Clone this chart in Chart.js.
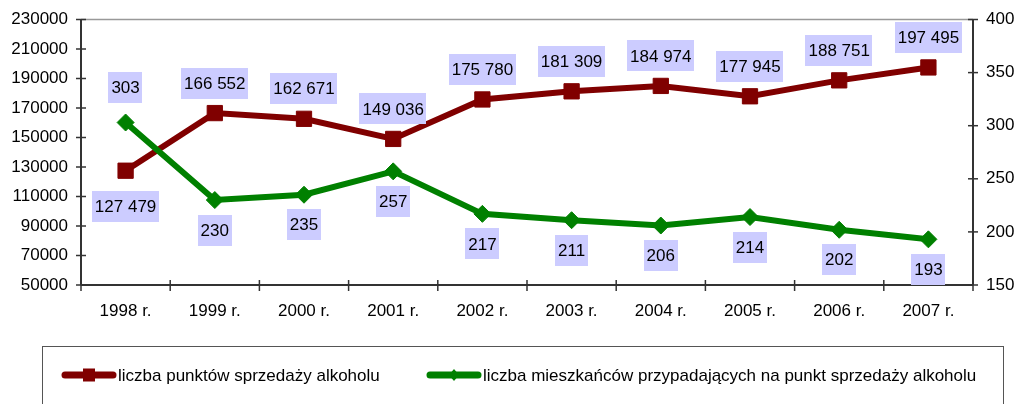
<!DOCTYPE html>
<html lang="pl">
<head>
<meta charset="UTF-8">
<title>Punkty sprzedaży alkoholu 1998-2007</title>
<style>
    body, html { margin: 0; background: #fff; }
    #wrap { width: 1017px; height: 404px; }
</style>
<script src="https://cdn.jsdelivr.net/npm/chart.js"></script>
</head>
<body>
<div id="wrap"><canvas id="chart" width="1017" height="404"></canvas></div>
<script>
// data
const years = ['1998 r.', '1999 r.', '2000 r.', '2001 r.', '2002 r.', '2003 r.', '2004 r.', '2005 r.', '2006 r.', '2007 r.'];
const outlets = [127479, 166552, 162671, 149036, 175780, 181309, 184974, 177945, 188751, 197495];
const residentsPerOutlet = [303, 230, 235, 257, 217, 211, 206, 214, 202, 193];
const leftTicks = [50000, 70000, 90000, 110000, 130000, 150000, 170000, 190000, 210000, 230000];
const rightTicks = [150, 200, 250, 300, 350, 400];
const seriesNames = ['liczba punktów sprzedaży alkoholu', 'liczba mieszkańców przypadających na punkt sprzedaży alkoholu'];

const FONT = "'Liberation Sans', Arial, sans-serif";
const RED = '#800000';
const GREEN = '#008000';

function fmt(v) {
    return String(v).replace(/\B(?=(\d{3})+(?!\d))/g, ' ');
}

function seg(ctx, x1, y1, x2, y2) {
    ctx.beginPath();
    ctx.moveTo(x1, y1);
    ctx.lineTo(x2, y2);
    ctx.stroke();
}

// axis lines + tick marks crossing the axes
const axesPlugin = {
    id: 'axes',
    beforeDatasetsDraw(chart) {
        const { ctx, chartArea: a, scales } = chart;
        ctx.save();
        ctx.strokeStyle = '#999';
        ctx.lineWidth = 1.5;
        seg(ctx, a.left, a.top, a.right, a.top);

        ctx.strokeStyle = '#333';
        ctx.lineWidth = 2;
        seg(ctx, a.left, a.top, a.left, a.bottom);
        seg(ctx, a.right, a.top, a.right, a.bottom);
        seg(ctx, a.left, a.bottom, a.right, a.bottom);

        ctx.lineWidth = 1.5;
        scales.y.ticks.forEach(t => {
            const p = scales.y.getPixelForValue(t.value);
            seg(ctx, a.left - 5, p, a.left + 5, p);
        });
        scales.y1.ticks.forEach(t => {
            const p = scales.y1.getPixelForValue(t.value);
            seg(ctx, a.right - 5, p, a.right + 5, p);
        });
        const n = years.length;
        for (let i = 0; i <= n; i++) {
            let x;
            if (i === 0) x = a.left;
            else if (i === n) x = a.right;
            else x = (scales.x.getPixelForTick(i - 1) + scales.x.getPixelForTick(i)) / 2;
            seg(ctx, x, a.bottom - 5, x, a.bottom + 6);
        }
        ctx.restore();
    }
};

// value labels in lavender boxes
const labelsPlugin = {
    id: 'valueLabels',
    afterDatasetsDraw(chart) {
        const ctx = chart.ctx;
        ctx.save();
        ctx.font = '17px ' + FONT;
        ctx.textAlign = 'center';
        ctx.textBaseline = 'middle';
        chart.data.datasets.forEach((ds, di) => {
            const meta = chart.getDatasetMeta(di);
            meta.data.forEach((pt, i) => {
                const first = i === 0;
                let above = ds.labelSide === 'above';
                if (first) above = !above;
                const off = first ? 35.5 : 30;
                const cy = pt.y + (above ? -off : off);
                const txt = fmt(ds.data[i]);
                const w = ctx.measureText(txt).width + 6;
                const h = 31;
                ctx.fillStyle = '#CCCCFF';
                ctx.fillRect(Math.round(pt.x - w / 2), Math.round(cy - h / 2), Math.round(w), h);
                ctx.fillStyle = '#000';
                ctx.fillText(txt, pt.x, cy + 1);
            });
        });
        ctx.restore();
    }
};

// legend box under the plot
const legendPlugin = {
    id: 'legendBox',
    afterDraw(chart) {
        const ctx = chart.ctx;
        ctx.save();
        ctx.strokeStyle = '#555';
        ctx.lineWidth = 1;
        ctx.strokeRect(42.5, 346.5, 961, 80);

        const starts = [62, 427];
        const y = 375;
        chart.data.datasets.forEach((ds, i) => {
            const x0 = starts[i];
            ctx.strokeStyle = ds.borderColor;
            ctx.lineWidth = 7;
            ctx.lineCap = 'round';
            seg(ctx, x0 + 3, y, x0 + 51, y);
            ctx.fillStyle = ds.borderColor;
            const mx = x0 + 27;
            if (ds.pointStyle === 'rect') {
                ctx.fillRect(mx - 6, y - 6.5, 12, 13);
            } else {
                ctx.beginPath();
                ctx.moveTo(mx, y - 6);
                ctx.lineTo(mx + 5, y);
                ctx.lineTo(mx, y + 6);
                ctx.lineTo(mx - 5, y);
                ctx.closePath();
                ctx.fill();
            }
            ctx.fillStyle = '#000';
            ctx.font = '17px ' + FONT;
            ctx.textAlign = 'left';
            ctx.textBaseline = 'middle';
            ctx.fillText(ds.label, x0 + 56, y + 1);
        });
        ctx.restore();
    }
};

const tickFont = { family: FONT, size: 17 };

new Chart(document.getElementById('chart'), {
    type: 'line',
    data: {
        labels: years,
        datasets: [
            {
                label: seriesNames[0],
                data: outlets,
                yAxisID: 'y',
                borderColor: RED,
                backgroundColor: RED,
                pointBackgroundColor: RED,
                pointBorderColor: RED,
                borderWidth: 6,
                pointStyle: 'rect',
                pointRadius: 10.8,
                pointBorderWidth: 1,
                tension: 0,
                order: 1,
                labelSide: 'above'
            },
            {
                label: seriesNames[1],
                data: residentsPerOutlet,
                yAxisID: 'y1',
                borderColor: GREEN,
                backgroundColor: GREEN,
                pointBackgroundColor: GREEN,
                pointBorderColor: GREEN,
                borderWidth: 6,
                pointStyle: 'rectRot',
                pointRadius: 8.5,
                pointBorderWidth: 1,
                tension: 0,
                order: 0,
                labelSide: 'below'
            }
        ]
    },
    options: {
        responsive: false,
        animation: false,
        layout: { padding: { top: 19.5, left: 0, right: 0, bottom: 0 } },
        plugins: {
            legend: { display: false },
            tooltip: { enabled: false }
        },
        scales: {
            x: {
                offset: true,
                grid: { display: false },
                border: { display: false },
                ticks: { color: '#000', font: tickFont, padding: 8, maxRotation: 0, autoSkip: false },
                afterFit: s => { s.height = 119; }
            },
            y: {
                position: 'left',
                min: leftTicks[0],
                max: leftTicks[leftTicks.length - 1],
                grid: { display: false },
                border: { display: false },
                ticks: { stepSize: leftTicks[1] - leftTicks[0], color: '#000', font: tickFont, padding: 5, callback: v => String(v) },
                afterFit: s => { s.width = 81; }
            },
            y1: {
                position: 'right',
                min: rightTicks[0],
                max: rightTicks[rightTicks.length - 1],
                grid: { display: false },
                border: { display: false },
                ticks: { stepSize: rightTicks[1] - rightTicks[0], color: '#000', font: tickFont, padding: 5, callback: v => String(v) },
                afterFit: s => { s.width = 44; }
            }
        }
    },
    plugins: [axesPlugin, labelsPlugin, legendPlugin]
});
</script>
</body>
</html>
